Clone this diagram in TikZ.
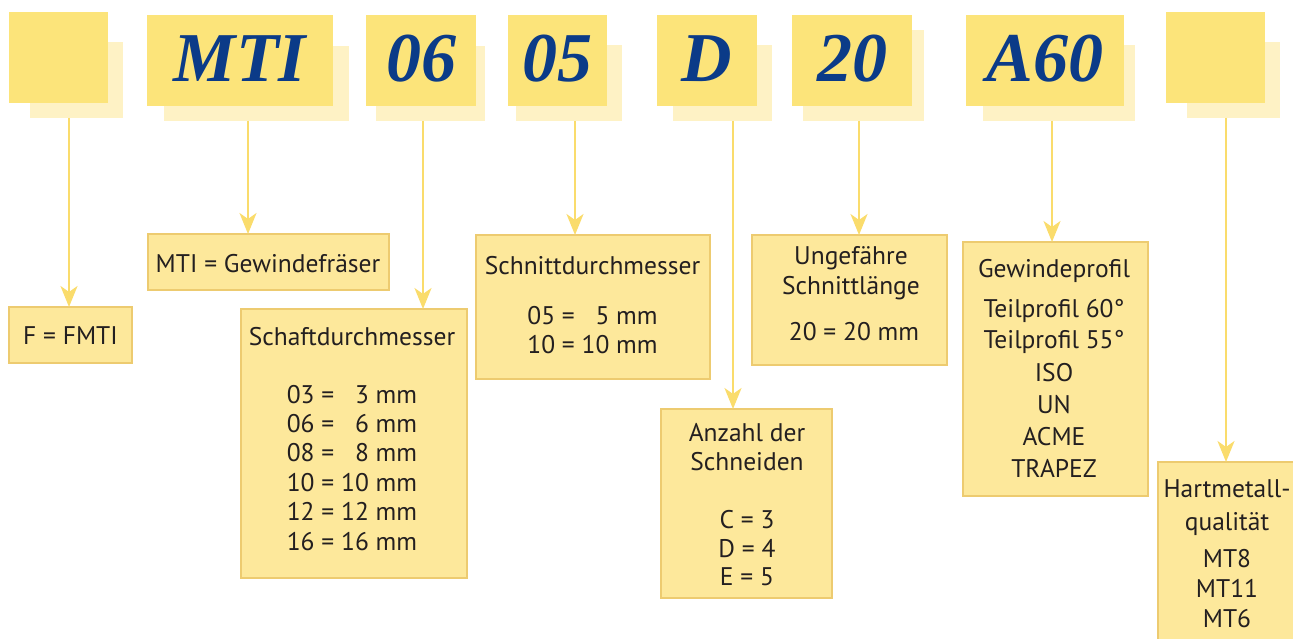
\documentclass[tikz,border=0pt]{standalone}
\usepackage{fontspec}
\setmainfont{PT Sans}
\newfontfamily\codeserif{Liberation Serif}
\usetikzlibrary{arrows.meta}
\definecolor{frontc}{HTML}{FCE47A}
\definecolor{shadc}{HTML}{FEF2C5}
\definecolor{infoc}{HTML}{FDE89B}
\definecolor{borderc}{HTML}{EDCB70}
\definecolor{arrc}{HTML}{FADC6C}
\definecolor{bluec}{HTML}{0B3B88}
\definecolor{txtc}{HTML}{231F20}
\tikzset{
  front/.style={fill=frontc, draw=none, inner sep=0pt, outer sep=0pt, anchor=north west},
  shade/.style={fill=shadc, draw=none, inner sep=0pt, outer sep=0pt, anchor=north west},
  info/.style={fill=infoc, draw=borderc, line width=1.2pt, inner sep=0pt, outer sep=0pt, anchor=north west},
  code/.style={font=\codeserif\bfseries\itshape\fontsize{70}{70}\selectfont, text=bluec, anchor=base, inner sep=0pt},
  lbl/.style={font=\fontsize{25.5}{29.4}\selectfont, text=txtc, anchor=base, inner sep=0pt},
  arr/.style={draw=arrc, line width=2.5pt, -{Stealth[length=21pt,width=17pt,inset=6pt]}}
}
\begin{document}
\begin{tikzpicture}[x=1pt,y=-1pt]
\useasboundingbox (0,0) rectangle (1293,639);
% shadows
\node[shade, minimum width=93, minimum height=76] (s0) at (30,42) {};
\node[shade, minimum width=185, minimum height=75] (s1) at (164,46) {};
\node[shade, minimum width=109, minimum height=75] (s2) at (376,46) {};
\node[shade, minimum width=106, minimum height=76] (s3) at (516,45) {};
\node[shade, minimum width=99, minimum height=76] (s4) at (673,45) {};
\node[shade, minimum width=121, minimum height=91] (s5) at (803,30) {};
\node[shade, minimum width=152, minimum height=76] (s6) at (983,45) {};
\node[shade, minimum width=93, minimum height=76] (s7) at (1187,42) {};
% front boxes
\node[front, minimum width=99, minimum height=91] (f0) at (9,12) {};
\node[front, minimum width=186, minimum height=91] (f1) at (147,15) {};
\node[front, minimum width=110, minimum height=91] (f2) at (366,15) {};
\node[front, minimum width=99, minimum height=91] (f3) at (508,15) {};
\node[front, minimum width=100, minimum height=91] (f4) at (657,15) {};
\node[front, minimum width=120, minimum height=91] (f5) at (792,15) {};
\node[front, minimum width=158, minimum height=91] (f6) at (966,15) {};
\node[front, minimum width=99, minimum height=91] (f7) at (1166,12) {};
\coordinate (cb) at (0,82);
\node[code] (c1) at (f1.center |- cb) {MTI};
\node[code] (c2) at (f2.center |- cb) {06};
\node[code] (c3) at (f3.center |- cb) {05};
\node[code] (c4) at (f4.center |- cb) {D};
\node[code] (c5) at (f5.center |- cb) {20};
\node[code] (c6) at (f6.center |- cb) {A60};
% info boxes
\node[info, minimum width=123, minimum height=56] (b0) at (9,307) {};
\node[info, minimum width=241, minimum height=56] (b1) at (148,234) {};
\node[info, minimum width=226, minimum height=269] (b2) at (241,309) {};
\node[info, minimum width=234, minimum height=144] (b3) at (476,235) {};
\node[info, minimum width=195, minimum height=130] (b4) at (752,235) {};
\node[info, minimum width=171, minimum height=189] (b5) at (661,409) {};
\node[info, minimum width=185, minimum height=254] (b6) at (963,242) {};
\node[info, minimum width=160, minimum height=200] (b7) at (1158,462) {};
% arrow x positions
\coordinate (a0) at (69,0);
\coordinate (a1) at (248,0);
\coordinate (a2) at (423,0);
\coordinate (a3) at (575,0);
\coordinate (a4) at (733,0);
\coordinate (a5) at (859,0);
\coordinate (a6) at (1052,0);
\coordinate (a7) at (1226,0);
\draw[arr] (s0.south -| a0) -- (b0.north -| a0);
\draw[arr] (s1.south -| a1) -- (b1.north -| a1);
\draw[arr] (s2.south -| a2) -- (b2.north -| a2);
\draw[arr] (s3.south -| a3) -- (b3.north -| a3);
\draw[arr] (s4.south -| a4) -- (b5.north -| a4);
\draw[arr] (s5.south -| a5) -- (b4.north -| a5);
\draw[arr] (s6.south -| a6) -- (b6.north -| a6);
\draw[arr] (s7.south -| a7) -- (b7.north -| a7);
% labels
\node[lbl] (t0) at (70.5,344) {F = FMTI};
\node[lbl] (t1) at (268,272) {MTI = Gewindefräser};
\node[lbl] (t2) at (352,345) {Schaftdurchmesser};
\node[lbl] (t2l) at (352,403) {\begin{tabular}[t]{@{}r@{ = }r@{}}03 & 3 mm\\06 & 6 mm\\08 & 8 mm\\10 & 10 mm\\12 & 12 mm\\16 & 16 mm\end{tabular}};
\node[lbl] (t3) at (592.5,274) {Schnittdurchmesser};
\node[lbl] (t3l) at (592.5,324) {\begin{tabular}[t]{@{}r@{ = }r@{}}05 & 5 mm\\10 & 10 mm\end{tabular}};
\node[lbl] (t4a) at (851,265) {Ungefähre};
\node[lbl] (t4b) at (851,294) {Schnittlänge};
\node[lbl] (t4c) at (854,340) {20 = 20 mm};
\node[lbl] (t5a) at (747,441) {Anzahl der};
\node[lbl] (t5b) at (747,470) {Schneiden};
\node[lbl] (t5c) at (747,528) {C = 3};
\node[lbl] (t5d) at (747,557) {D = 4};
\node[lbl] (t5e) at (747,585) {E = 5};
\node[lbl] (t6a) at (1054,277) {Gewindeprofil};
\node[lbl] (t6b) at (1054,317) {Teilprofil 60°};
\node[lbl] (t6c) at (1054,348) {Teilprofil 55°};
\node[lbl] (t6d) at (1054,381) {ISO};
\node[lbl] (t6e) at (1054,413) {UN};
\node[lbl] (t6f) at (1054,445) {ACME};
\node[lbl] (t6g) at (1054,477) {TRAPEZ};
\node[lbl] (t7a) at (1227,497) {Hartmetall-};
\node[lbl] (t7b) at (1227,530) {qualität};
\node[lbl] (t7c) at (1227,567) {MT8};
\node[lbl] (t7d) at (1227,597) {MT11};
\node[lbl] (t7e) at (1227,627) {MT6};
\end{tikzpicture}
\end{document}
